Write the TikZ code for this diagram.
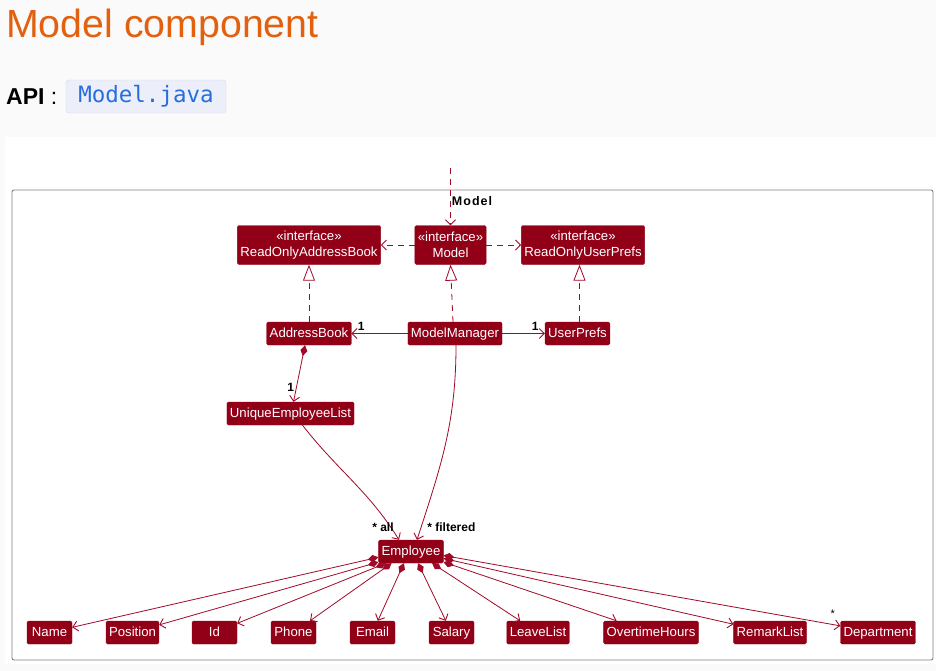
\documentclass[tikz,border=0pt]{standalone}
\usepackage{fontspec}
\setmainfont{Liberation Sans}
\newfontfamily\codefont{DejaVu Sans Mono}
\usetikzlibrary{arrows.meta,calc}
\definecolor{umlred}{RGB}{146,0,24}
\definecolor{edgered}{RGB}{160,10,40}
\definecolor{titleorange}{RGB}{226,96,14}
\definecolor{codeblue}{RGB}{38,110,220}
\definecolor{codebg}{RGB}{236,239,250}
\definecolor{pagebg}{RGB}{250,250,250}
\tikzset{
  cls/.style={fill=umlred,draw=umlred,text=white,rounded corners=1.5pt,font=\fontsize{13.2}{15}\selectfont,minimum height=23pt,inner xsep=3pt,inner ysep=2pt,text height=9.5pt,text depth=2.5pt},
  iface/.style={cls,align=center,minimum height=39pt,text height=,text depth=,font=\fontsize{13.2}{15.5}\selectfont},
  leaf/.style={cls,minimum width=45pt},
  mult/.style={font=\bfseries\fontsize{12}{14}\selectfont,inner sep=0pt},
  dep/.style={draw=edgered,line width=.8pt,dash pattern=on 6pt off 5pt,-{Straight Barb[length=5pt,width=10pt,line width=.9pt]}},
  realize/.style={draw=edgered,line width=.8pt,dash pattern=on 6pt off 5pt,-{Triangle[open,length=16pt,width=12pt,fill=white,line width=.8pt]}},
  assoc/.style={draw=edgered,line width=.8pt,-{Straight Barb[length=5pt,width=10pt,line width=.9pt]}},
  comp/.style={draw=edgered,line width=.8pt,{Diamond[length=11pt,width=7pt,fill=edgered]}-{Straight Barb[length=5pt,width=10pt,line width=.9pt]}}
}
\begin{document}
\begin{tikzpicture}[x=1pt,y=-1pt]
\useasboundingbox[fill=pagebg] (0,0) rectangle (936,671);
\fill[white] (5,137) rectangle (936,664);

% heading
\node[anchor=base west,inner sep=0pt,text=titleorange,font=\fontsize{39.3}{42}\selectfont] (title) at (6,38) {Model component};
\node[anchor=base west,inner sep=0pt,font=\fontsize{23}{26}\selectfont] (api) at (6,105) {\bfseries API\mdseries\ :};
\node[fill=codebg,draw=codebg!80!gray,rounded corners=3pt,minimum width=160pt,minimum height=33pt,inner sep=0pt,text=codeblue,font=\codefont\fontsize{22.5}{26}\selectfont] (code) at (146,96.5) {Model.java};

% package frame
\draw[draw=gray,line width=.9pt,rounded corners=2pt] (12,190) rectangle (933,660);
\node[font=\bfseries\fontsize{12.5}{14}\selectfont\addfontfeatures{LetterSpace=8}] (pkg) at (472,201) {Model};

% classes
\node[iface] (roab) at (309,245) {«interface»\\ReadOnlyAddressBook};
\node[iface] (model) at (450.5,245) {«interface»\\Model};
\node[iface] (roup) at (583,245) {«interface»\\ReadOnlyUserPrefs};
\node[cls] (ab) at (309,333.5) {AddressBook};
\node[cls] (mm) at (455,333.5) {ModelManager};
\node[cls] (up) at (577.5,333.5) {UserPrefs};
\node[cls] (uel) at (290.5,413.5) {UniqueEmployeeList};
\node[cls] (emp) at (411,551.5) {Employee};

\node[leaf] (name) at (49.5,632.5) {Name};
\node[leaf] (pos) at (132.5,632.5) {Position};
\node[leaf] (id) at (214.5,632.5) {Id};
\node[leaf] (phone) at (293.5,632.5) {Phone};
\node[leaf] (email) at (372.5,632.5) {Email};
\node[leaf] (salary) at (451.5,632.5) {Salary};
\node[leaf] (leave) at (538,632.5) {LeaveList};
\node[leaf] (ot) at (651,632.5) {OvertimeHours};
\node[leaf] (remark) at (770,632.5) {RemarkList};
\node[leaf] (dept) at (878,632.5) {Department};

% interface links
\coordinate (entry) at (450.5,168);
\coordinate (upout) at ($(up.north)+(2,0)$);
\draw[dep] (entry) -- (model.north);
\draw[dep] (model.west) -- (roab.east);
\draw[dep] (model.east) -- (roup.west);
\draw[realize] (ab.north) -- (roab.south);
\draw[realize] ($(mm.north)+(-2,0)$) -- (model.south);
\draw[realize] (upout) -- (upout |- roup.south);

% associations
\draw[assoc] (mm.west) -- (ab.east) node[mult,pos=1,anchor=south west,xshift=6pt,yshift=3pt]{1};
\draw[assoc] (mm.east) -- (up.west) node[mult,pos=1,anchor=south east,xshift=-6pt,yshift=3pt]{1};
\draw[comp] ($(ab.south)+(-4,0)$) -- ($(uel.north)+(3,0)$) node[mult,pos=.75,anchor=east,xshift=-2pt]{1};
\draw[assoc] ($(uel.south)+(12,0)$) to[out=-52,in=122]
  node[mult,pos=1,anchor=south east,xshift=-5pt,yshift=8pt]{* all} ($(emp.north)+(-12,0)$);
\draw[assoc] ($(mm.south)+(1,0)$) to[out=-90,in=72]
  node[mult,pos=1,anchor=south west,xshift=10pt,yshift=8pt]{* filtered} ($(emp.north)+(6,0)$);

% employee fields
\draw[comp] (emp.190) -- (name);
\draw[comp] (emp.198) -- (pos);
\draw[comp] (emp.205) -- (id);
\draw[comp] (emp.211) -- (phone);
\draw[comp] (emp.239) -- (email);
\draw[comp] (emp.301) -- (salary);
\draw[comp] (emp.331) -- (leave);
\draw[comp] (emp.342) -- (ot);
\draw[comp] (emp.348) -- (remark);
\draw[comp] (emp.353) -- (dept) node[pos=1,anchor=south east,inner sep=0pt,xshift=-5pt,yshift=8pt,font=\fontsize{11}{12}\selectfont]{*};
\end{tikzpicture}
\end{document}
